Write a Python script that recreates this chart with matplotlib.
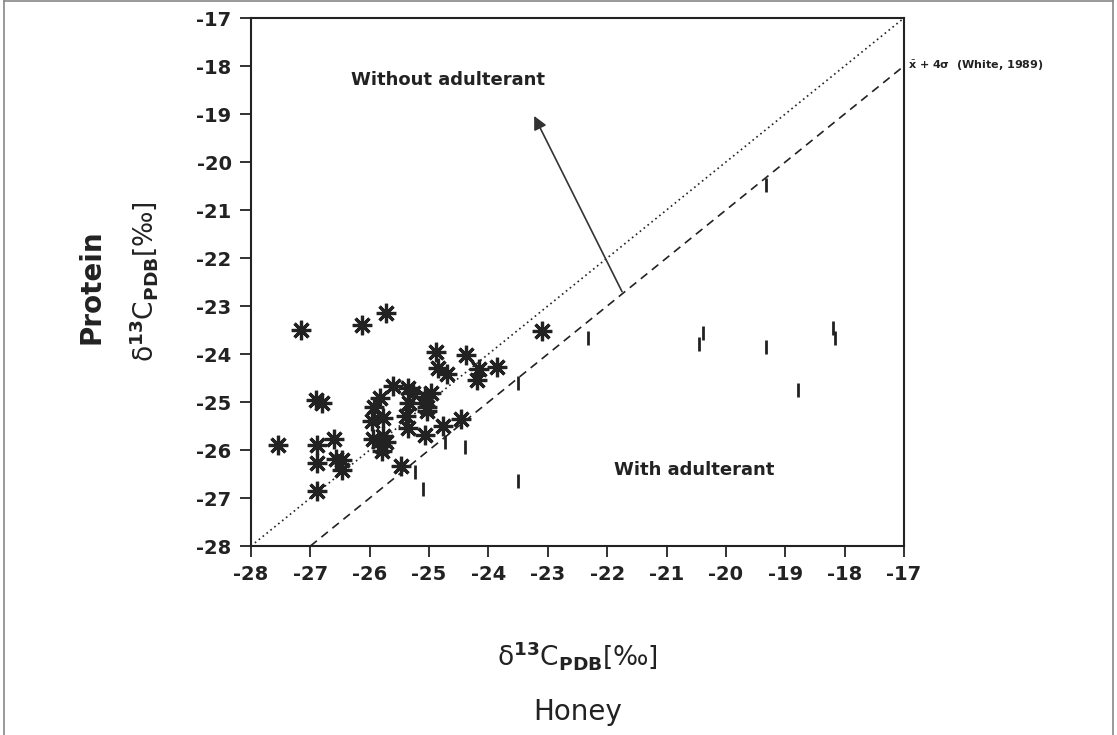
import matplotlib
matplotlib.use('Agg')
import matplotlib.pyplot as plt
from matplotlib.lines import Line2D

plt.rcParams['axes.unicode_minus'] = False

# honey d13C vs protein d13C, samples without adulterant (asterisks)
honey_ok = [-27.15, -26.13, -25.73, -23.09, -24.88, -24.37, -24.85, -24.69, -24.16,
            -23.86, -24.20, -25.60, -25.35, -25.27, -25.83, -26.90, -26.80, -25.34,
            -25.07, -24.96, -25.04, -25.93, -25.04, -25.77, -25.39, -25.96, -24.46,
            -24.76, -25.35, -25.07, -25.95, -25.78, -25.73, -25.80, -25.79, -27.55,
            -26.88, -26.61, -26.88, -26.56, -26.47, -26.46, -25.47, -26.88]
protein_ok = [-23.49, -23.39, -23.15, -23.52, -23.95, -24.03, -24.30, -24.42, -24.32,
              -24.26, -24.54, -24.66, -24.70, -24.81, -24.92, -24.96, -25.03, -25.01,
              -24.90, -24.82, -25.10, -25.10, -25.18, -25.33, -25.29, -25.40, -25.35,
              -25.50, -25.54, -25.69, -25.76, -25.70, -25.84, -25.91, -26.03, -25.90,
              -25.90, -25.76, -26.26, -26.19, -26.21, -26.42, -26.33, -26.85]

# samples with adulterant (bars)
honey_adl = [-23.50, -24.74, -24.39, -25.24, -25.10, -23.50, -22.33, -20.38, -20.45,
             -19.33, -18.19, -18.16, -18.78, -19.33]
protein_adl = [-24.60, -25.84, -25.93, -26.45, -26.82, -26.64, -23.66, -23.56, -23.79,
               -23.85, -23.46, -23.67, -24.74, -20.48]

lim = [-28, -17]
ticks = list(range(-28, -16))

fig = plt.figure(figsize=(11.17, 7.35), dpi=100)
ax = fig.add_axes([0.2247, 0.2571, 0.5846, 0.7184])

c = '#222222'
# reference lines: 1:1 and mean + 4 sigma (White, 1989)
ax.plot([-28, -17], [-28, -17], ls=(0, (1, 2)), color=c, lw=1.2)
ax.plot([-27, -17], [-28, -18], ls=(0, (5, 3.5)), color=c, lw=1.2)

ax.plot(honey_ok, protein_ok, ls='none', marker=(8, 2, 0), ms=14, mew=2.3, color=c)
ax.plot(honey_adl, protein_adl, ls='none', marker='|', ms=10, mew=2.0, color=c)

ax.annotate('', xy=(-23.23, -19.04), xytext=(-21.75, -22.70),
            arrowprops=dict(arrowstyle='-|>', color='#333333', lw=1.2,
                            mutation_scale=20, shrinkA=0, shrinkB=0))

ax.text(-24.68, -18.29, 'Without adulterant', fontsize=13, fontweight='bold',
        ha='center', va='center', color=c)
ax.text(-20.54, -26.42, 'With adulterant', fontsize=13, fontweight='bold',
        ha='center', va='center', color=c)
ax.text(-16.93, -18.0, r'$\bar{\mathbf{x}}$ + 4σ  (White, 1989)', fontsize=8,
        fontweight='bold', ha='left', va='center', color=c, clip_on=False)

ax.set_xlim(lim)
ax.set_ylim(lim)
ax.set_xticks(ticks)
ax.set_yticks(ticks)
ax.tick_params(direction='out', length=8, width=1.3, labelsize=14, pad=6, colors=c)
for lab in ax.get_xticklabels() + ax.get_yticklabels():
    lab.set_fontweight('bold')
for sp in ax.spines.values():
    sp.set_linewidth(1.5)
    sp.set_color(c)

lbl = r'δ$^{\mathbf{13}}$C$_{\mathbf{PDB}}$[‰]'
fig.text(0.517, 0.108, lbl, fontsize=19, ha='center', va='center', color=c)
fig.text(0.517, 0.031, 'Honey', fontsize=20, ha='center', va='center', color=c)
fig.text(0.082, 0.61, 'Protein', fontsize=20, fontweight='bold', rotation=90,
         ha='center', va='center', color=c)
fig.text(0.129, 0.617, lbl, fontsize=19, rotation=90,
         ha='center', va='center', color=c)

# thin frame round the figure
for xs, ys in [([0.0036, 0.9964], [0.9985, 0.9985]), ([0.0036, 0.0036], [0, 0.9985]),
               ([0.9964, 0.9964], [0, 0.9985])]:
    fig.add_artist(Line2D(xs, ys, color='#888888', lw=1.2, transform=fig.transFigure))

plt.savefig('out.png', dpi=100)
